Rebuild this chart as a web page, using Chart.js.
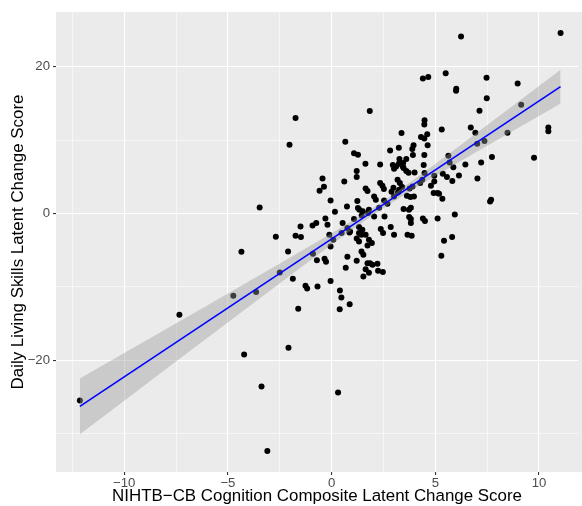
<!DOCTYPE html>
<html>
<head>
<meta charset="utf-8">
<script src="https://cdn.jsdelivr.net/npm/chart.js@4.4.1/dist/chart.umd.min.js"></script>
<style>
  html, body { margin: 0; padding: 0; background: #fff; overflow: hidden; }
  #wrap { width: 582px; height: 506px; }
  canvas { display: block; }
</style>
</head>
<body>
<div id="wrap"><canvas id="chart" width="582" height="506"></canvas></div>
<script>
// cognition change (x) and daily living skills change (y)
const cogChange = [
  -1.74, -2.03, 1.84, 0.66, 3.37, 4.31, 1.08, 1.27, 1.63, 2.34,
  2.82, 3.24, 3.95, 3.89, 3.92, 3.6, 3.27, 2.95, 3.11, 3.43,
  4.4, 6.24, 11.04, 4.66, 5.5, 7.47, 8.97, 6.01, 6.0, 7.48,
  9.14, 7.13, 4.48, 4.47, 5.31, 6.71, 6.93, 8.48, 10.45, 10.45,
  4.61, 4.47, 4.63, 7.02, 7.37, 4.47, 4.44, 5.63, 5.69, 5.87,
  6.45, 7.21, 7.73, 9.76, 4.95, 4.95, 5.36, 5.56, 5.82, 6.14,
  7.03, 4.79, 4.92, 5.11, 5.18, 5.34, 7.69, 7.64, 5.94, 5.81,
  5.42, 5.29, -3.47, -4.35, -4.74, -3.64, -7.34, -12.14, -4.22, -3.38,
  -3.1, -0.44, -0.37, -0.58, 0.61, -0.05, 0.16, 0.74, -0.3, -0.2,
  0.53, -1.5, -0.92, -0.74, -2.69, -1.74, -1.48, -0.11, 0.08, -0.05,
  0.48, 0.86, -2.1, -0.9, -0.71, -0.34, -0.27, 0.76, 0.68, 1.21,
  1.21, 2.34, 2.45, 2.52, 1.64, 1.73, 2.98, 3.18, 3.29, 3.4,
  3.26, 3.76, 3.9, 4.27, 3.63, 3.8, 3.97, 2.05, 2.13, 2.89,
  3.01, 3.2, 2.53, 2.69, 1.24, 1.27, 1.34, 1.8, 1.76, 2.29,
  3.47, 3.73, 3.82, 2.05, 2.55, 1.45, 1.5, 1.08, 3.74, 3.82,
  3.82, 4.4, 4.5, 5.11, 0.76, 0.89, 1.32, 1.48, 1.32, 1.44,
  1.64, 1.21, 1.32, 1.8, 1.94, 1.73, 2.37, 2.48, 2.85, 3.01,
  3.66, 3.86, 1.44, 1.53, 1.21, 1.73, 1.85, 1.97, 2.21, -2.5,
  -1.87, -1.26, -1.18, -0.68, -0.05, 1.64, 1.8, 1.53, 2.24, 2.47,
  0.4, 0.47, -1.61, 0.39, 0.87, -2.08, 0.31, 4.48, 4.37, 3.01,
  3.24, 3.45, 3.47, 3.6, 3.71, 4.0
];
const dlsChange = [
  13.0, 9.36, 13.96, 9.77, 10.95, 10.4, 8.2, 8.0, 6.77, 6.67,
  8.58, 8.95, 9.3, 8.77, 7.95, 7.4, 7.4, 6.6, 6.4, 6.4,
  18.4, 24.1, 24.6, 18.6, 19.1, 18.5, 17.7, 17.0, 16.7, 15.7,
  14.8, 14.0, 12.7, 12.1, 11.45, 11.7, 11.0, 11.0, 11.7, 11.2,
  10.8, 10.2, 9.3, 9.5, 9.86, 7.95, 6.6, 7.86, 6.95, 6.3,
  6.67, 6.95, 7.68, 7.6, 5.13, 4.35, 5.4, 4.95, 4.4, 5.17,
  4.76, 3.77, 2.77, 2.77, 2.67, 1.99, 1.86, 1.62, -0.15, -3.23,
  -3.74, -5.78, 0.8, -5.24, -11.24, -10.7, -13.8, -25.5, -19.25, -23.6,
  -32.4, 4.76, 3.63, 3.08, 4.35, 1.76, 0.22, 0.94, -0.7, -1.56,
  -1.3, -1.79, -1.65, -1.32, -3.19, -3.06, -3.23, -2.92, -3.6, -4.5,
  -2.69, -2.6, -5.2, -5.5, -6.4, -6.2, -6.6, -5.9, -7.4, 5.77,
  4.95, 4.13, 3.77, 3.31, 3.4, 3.04, 3.49, 4.58, 4.13, 3.59,
  3.22, 3.4, 3.67, 4.13, 2.4, 2.22, 2.31, 2.31, 1.86, 2.95,
  2.31, 2.85, 1.76, 1.31, 1.68, 0.72, 0.49, 0.49, 0.04, 0.76,
  0.59, 0.49, 0.76, -0.42, -0.42, -0.3, 0.3, -0.78, -0.5, -0.78,
  -1.32, -0.69, -1.05, -0.7, -2.0, -2.47, -1.87, -2.24, -2.69, -2.92,
  -2.92, -3.42, -3.83, -3.6, -4.05, -4.38, -2.14, -2.69, -1.87, -2.92,
  -2.92, -3.06, -5.2, -5.65, -6.47, -6.78, -6.78, -7.01, -6.88, -8.06,
  -8.92, -9.88, -10.25, -9.97, -9.2, -7.6, -8.1, -8.6, -7.83, -8.0,
  -10.5, -11.47, -13.0, -13.06, -12.4, -18.3, -24.4, 5.5, 4.58, 6.08,
  6.77, 6.86, 6.18, 5.77, 5.54, 5.58
];

// fitted line end points
const fitX = [-12.14, 11.04];
const fitY = [-26.3, 17.28];

// confidence band read along x
const bandX = [-12.14, -10, -8, -6, -4, -2, 0, 2, 4, 6, 8, 10, 11.04];
const bandUpper = [-22.5, -19.03, -15.79, -12.54, -9.28, -6.02, -2.72, 0.74, 4.66, 8.85, 13.09, 17.36, 19.58];
const bandLower = [-30.1, -25.53, -21.25, -16.98, -12.72, -8.46, -4.24, -0.18, 3.42, 6.75, 10.03, 13.28, 14.98];

const xTicksMajor = 5;
const yTicksMajor = 20;

const FONT = "'Liberation Sans', Arial, Helvetica, sans-serif";
const fmt = v => (v < 0 ? '\u2212' + Math.abs(v) : String(v));

const pts = cogChange.map((x, i) => ({ x: x, y: dlsChange[i] }));
const line = fitX.map((x, i) => ({ x: x, y: fitY[i] }));
const up = bandX.map((x, i) => ({ x: x, y: bandUpper[i] }));
const lo = bandX.map((x, i) => ({ x: x, y: bandLower[i] }));

// grey panel, run on to the right edge of the canvas like the cropped original
const panelBg = {
  id: 'panelBg',
  beforeDraw(chart) {
    const { ctx, chartArea: a } = chart;
    ctx.save();
    ctx.fillStyle = '#ffffff';
    ctx.fillRect(0, 0, chart.width, chart.height);
    ctx.fillStyle = '#EBEBEB';
    ctx.fillRect(a.left, a.top, chart.width - a.left, a.bottom - a.top);
    ctx.restore();
  }
};

const isMajor = (v, m) => Math.abs(v % m) < 1e-9;

const chart = new Chart(document.getElementById('chart').getContext('2d'), {
  type: 'scatter',
  data: {
    datasets: [
      { label: 'fit', type: 'line', data: line, borderColor: '#0000FF', borderWidth: 1.6,
        pointRadius: 0, fill: false, order: 0 },
      { label: 'upper', type: 'line', data: up, borderColor: 'transparent', borderWidth: 0,
        pointRadius: 0, fill: 2, backgroundColor: 'rgba(153,153,153,0.4)', order: 1 },
      { label: 'lower', type: 'line', data: lo, borderColor: 'transparent', borderWidth: 0,
        pointRadius: 0, fill: false, order: 1 },
      { label: 'points', data: pts, backgroundColor: '#000000', borderWidth: 0,
        pointRadius: 3, order: 2 }
    ]
  },
  options: {
    responsive: false,
    animation: false,
    devicePixelRatio: 1,
    layout: { padding: { top: 12, right: 0, left: 0, bottom: 0 } },
    plugins: { legend: { display: false }, tooltip: { enabled: false } },
    scales: {
      x: {
        type: 'linear', min: -13.29, max: 11.88,
        border: { display: false },
        grid: {
          color: '#ffffff',
          lineWidth: c => isMajor(c.tick.value, xTicksMajor) ? 1.1 : 0.55,
          tickColor: c => isMajor(c.tick.value, xTicksMajor) ? '#333333' : 'transparent',
          tickLength: 3, tickWidth: 1.1
        },
        ticks: {
          stepSize: 2.5, includeBounds: false, autoSkip: false, maxRotation: 0,
          padding: 0, color: '#4D4D4D', font: { family: FONT, size: 13.2 },
          callback: v => isMajor(v, xTicksMajor) ? fmt(v) : ''
        },
        title: {
          display: true, text: 'NIHTB\u2212CB Cognition Composite Latent Change Score',
          color: '#000000', font: { family: FONT, size: 16.9 }, padding: { top: 0, bottom: 0 }
        },
        afterFit: s => { s.height = 34; s.paddingLeft = 0; s.paddingRight = 0; }
      },
      y: {
        type: 'linear', min: -35.25, max: 27.45,
        border: { display: false },
        grid: {
          color: '#ffffff',
          lineWidth: c => isMajor(c.tick.value, yTicksMajor) ? 1.1 : 0.55,
          tickColor: c => isMajor(c.tick.value, yTicksMajor) ? '#333333' : 'transparent',
          tickLength: 3, tickWidth: 1.1
        },
        ticks: {
          stepSize: 10, includeBounds: false, autoSkip: false,
          padding: 3, color: '#4D4D4D', font: { family: FONT, size: 13.2 },
          callback: v => isMajor(v, yTicksMajor) ? fmt(v) : ''
        },
        title: {
          display: true, text: 'Daily Living Skills Latent Change Score',
          color: '#000000', font: { family: FONT, size: 16.9 }, padding: { top: 8, bottom: 0 }
        },
        afterFit: s => { s.width = 56; s.paddingTop = 0; s.paddingBottom = 0; }
      }
    }
  },
  plugins: [panelBg]
});
</script>
</body>
</html>
